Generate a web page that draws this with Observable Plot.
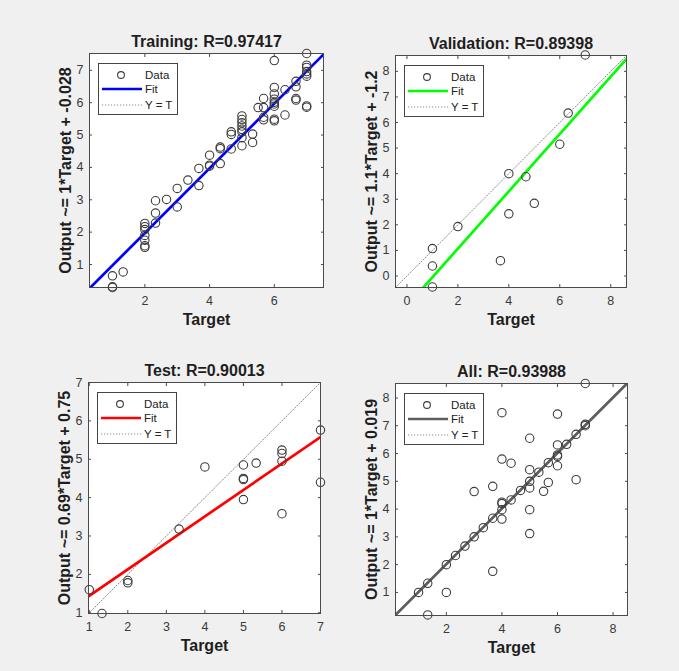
<!DOCTYPE html>
<html><head><meta charset="utf-8">
<script src="https://cdn.jsdelivr.net/npm/d3@7"></script>
<script src="https://cdn.jsdelivr.net/npm/@observablehq/plot@0.6"></script>
<style>
html,body{margin:0;padding:0;background:#f0f0f0;}
#fig{position:relative;width:679px;height:671px;background:#f0f0f0;font-family:"Liberation Sans",Arial,Helvetica,sans-serif;overflow:hidden;}
#fig svg.plot{position:absolute;overflow:visible;}
#fig svg.leg{position:absolute;overflow:visible;}
</style></head><body><div id="fig"></div>
<script>
// ---- Data ----
const trainTarget = [1,1,1,1.33, 2,2,2,2,2,2,2, 2.33,2.33,2.33, 2.67, 3,3, 3.33, 3.67,3.67, 4,4,4, 4.33,4.33,4.33, 4.67,4.67,4.67, 5,5,5,5,5,5,5,5, 5.33,5.33, 5.5, 5.67,5.67,5.67,5.67, 6,6,6,6,6,6,6,6,6, 6.33,6.33, 6.67,6.67,6.67,6.67, 7,7,7,7,7,7,7,7];
const trainOutput = [0.65,0.31,0.29,0.77, 2.27,2.17,2.08,1.9,1.75,1.58,1.53, 2.97,2.59,2.28, 3.01, 3.35,2.78, 3.61, 3.97,3.44, 4.38,4.07,4.04, 4.63,4.58,4.12, 5.1,5.02,4.57, 5.59,5.48,5.38,5.28,5.18,5.1,4.92,4.67, 5.03,4.77, 5.85, 6.13,5.85,5.55,5.47, 7.3,6.47,6.27,6.11,6.01,5.96,5.89,5.49,5.44, 6.4,5.62, 6.66,6.49,6.13,6.08, 7.52,7.16,7.09,6.96,6.89,6.82,5.9,5.86];

const valTarget = [7, 6.33, 6, 4, 4.67, 5, 4, 2, 3.67, 1, 1, 1];
const valOutput = [8.64, 6.37, 5.15, 4.0, 3.88, 2.84, 2.43, 1.93, 0.6, 1.07, 0.39, -0.43];

const testTarget = [1, 1.33, 2, 2, 3.33, 4, 5, 5, 5, 5, 5.33, 6, 6, 6, 6, 7, 7];
const testOutput = [1.6, 0.98, 1.84, 1.78, 3.18, 4.8, 4.85, 4.5, 4.47, 3.95, 4.9, 5.24, 5.15, 4.95, 3.58, 5.76, 4.4];

const allTarget = [7, 4, 6, 7, 7, 6.67, 5, 6.33, 6, 6, 6, 6, 5.67, 5.33, 5, 5, 5, 5, 5, 5.67, 5.5, 6.67, 4, 4.33, 3.67, 3, 4.67, 4.33, 4, 4, 4, 4, 3.67, 3.33, 3, 2.67, 2.33, 2, 2, 3.67, 1.33, 1, 1.33];
const allOutput = [8.52, 7.47, 7.42, 7.05, 7.0, 6.69, 6.55, 6.33, 6.31, 5.95, 5.9, 5.56, 5.67, 5.33, 5.42, 5.0, 4.76, 3.98, 3.12, 4.96, 4.64, 5.06, 5.8, 5.65, 4.82, 4.63, 4.67, 4.33, 4.25, 4.2, 3.98, 3.64, 3.67, 3.33, 3.0, 2.67, 2.33, 2.0, 1.0, 1.76, 1.33, 1.0, 0.19];

// axis limits, tick values
const trainDomain = [0.29, 7.52];
const valDomain = [-0.45, 8.62];
const testDomain = [0.98, 7.0];
const allDomain = [0.17, 8.52];
const trainXTicks = [2, 4, 6];
const trainYTicks = [1, 2, 3, 4, 5, 6, 7];
const valXTicks = [0, 2, 4, 6, 8];
const valYTicks = [0, 1, 2, 3, 4, 5, 6, 7, 8];
const testXTicks = [1, 2, 3, 4, 5, 6, 7];
const testYTicks = [1, 2, 3, 4, 5, 6, 7];
const allXTicks = [2, 4, 6, 8];
const allYTicks = [1, 2, 3, 4, 5, 6, 7, 8];

// fit lines (slope, intercept)
const trainFit = [1.0, -0.028];
const valFit = [1.12, -1.17];
const testFit = [0.69, 0.75];
const allFit = [1.0, 0.019];

const titles = ["Training: R=0.97417", "Validation: R=0.89398", "Test: R=0.90013", "All: R=0.93988"];
const yLabels = ["Output ~= 1*Target + -0.028", "Output ~= 1.1*Target + -1.2", "Output ~= 0.69*Target + 0.75", "Output ~= 1*Target + 0.019"];
const xLabel = "Target";
const legendLabels = ["Data", "Fit", "Y = T"];
const fitColors = ["#0000ff", "#00ff00", "#ff0000", "#5e5e5e"];

// ---- Layout ----
const FONT = '"Liberation Sans", Arial, Helvetica, sans-serif';
const ML = 60, MR = 15, MT = 40, MB = 45;
const panels = [
  {left: 89, top: 53, w: 234, h: 234, target: trainTarget, output: trainOutput, domain: trainDomain, xt: trainXTicks, yt: trainYTicks, fit: trainFit},
  {left: 395, top: 55, w: 231, h: 232, target: valTarget, output: valOutput, domain: valDomain, xt: valXTicks, yt: valYTicks, fit: valFit},
  {left: 88, top: 382, w: 232, h: 231, target: testTarget, output: testOutput, domain: testDomain, xt: testXTicks, yt: testYTicks, fit: testFit},
  {left: 395, top: 383, w: 232, h: 232, target: allTarget, output: allOutput, domain: allDomain, xt: allXTicks, yt: allYTicks, fit: allFit}
];

const fig = document.getElementById("fig");
const AX = "#4a4a4a";

panels.forEach((p, i) => {
  const pts = p.target.map((t, j) => ({t, o: p.output[j]}));
  const diag = p.domain.map(v => ({t: v, o: v}));
  const fitLine = p.domain.map(v => ({t: v, o: p.fit[0] * v + p.fit[1]}));
  const svg = Plot.plot({
    width: p.w + ML + MR, height: p.h + MT + MB,
    marginLeft: ML, marginRight: MR, marginTop: MT, marginBottom: MB,
    style: {background: "transparent", fontFamily: FONT, overflow: "visible"},
    x: {domain: p.domain, label: null},
    y: {domain: p.domain, label: null},
    marks: [
      Plot.frame({fill: "white", stroke: null}),
      Plot.line(diag, {x: "t", y: "o", stroke: "#8a8a8a", strokeWidth: 1, strokeDasharray: "1.2,1.8", clip: true}),
      Plot.line(fitLine, {x: "t", y: "o", stroke: fitColors[i], strokeWidth: 2.7, clip: true}),
      Plot.dot(pts, {x: "t", y: "o", r: 4.2, stroke: "#3c3c3c", strokeWidth: 1.1, fill: "none"}),
      Plot.frame({stroke: AX, strokeWidth: 1}),
      Plot.axisX(p.xt, {anchor: "bottom", tickSize: -3, fill: "none", stroke: AX, label: null}),
      Plot.axisX(p.xt, {anchor: "top", tickSize: -3, fill: "none", stroke: AX, label: null}),
      Plot.axisY(p.yt, {anchor: "left", tickSize: -3, fill: "none", stroke: AX, label: null}),
      Plot.axisY(p.yt, {anchor: "right", tickSize: -3, fill: "none", stroke: AX, label: null}),
      Plot.axisX(p.xt, {anchor: "bottom", tickSize: 0, tickPadding: 9, fontSize: 12.5, fill: "#3a3a3a", label: null}),
      Plot.axisY(p.yt, {anchor: "left", tickSize: 0, tickPadding: 6, fontSize: 12.5, fill: "#3a3a3a", label: null}),
      Plot.text([titles[i]], {frameAnchor: "top", dy: -12, fontSize: 16, fontWeight: "bold", fill: "#1e1e1e", lineAnchor: "middle", textAnchor: "middle"}),
      Plot.text([xLabel], {frameAnchor: "bottom", dy: 32, fontSize: 16, fontWeight: "bold", fill: "#1e1e1e", lineAnchor: "middle", textAnchor: "middle"}),
      Plot.text([yLabels[i]], {frameAnchor: "left", dx: -24, rotate: -90, fontSize: 16, fontWeight: "bold", fill: "#1e1e1e", lineAnchor: "middle", textAnchor: "middle"})
    ]
  });
  svg.classList.add("plot");
  svg.style.left = (p.left - ML) + "px";
  svg.style.top = (p.top - MT) + "px";
  fig.appendChild(svg);

  // legend box
  const LW = 80, LH = 52;
  const leg = d3.create("svg").attr("class", "leg").attr("width", LW).attr("height", LH)
    .style("left", (p.left + 9) + "px").style("top", (p.top + 10) + "px");
  leg.append("rect").attr("x", 0.5).attr("y", 0.5).attr("width", LW - 1).attr("height", LH - 1)
    .attr("fill", "white").attr("stroke", "#444");
  const rows = [12, 26, 42];
  leg.append("circle").attr("cx", 23).attr("cy", rows[0]).attr("r", 3.4).attr("fill", "none").attr("stroke", "#3c3c3c").attr("stroke-width", 1.1);
  leg.append("line").attr("x1", 4).attr("x2", 44).attr("y1", rows[1]).attr("y2", rows[1]).attr("stroke", fitColors[i]).attr("stroke-width", 2.7);
  leg.append("line").attr("x1", 4).attr("x2", 45).attr("y1", rows[2]).attr("y2", rows[2]).attr("stroke", "#8a8a8a").attr("stroke-dasharray", "1.2,1.8");
  legendLabels.forEach((lab, k) => {
    leg.append("text").attr("x", 47).attr("y", rows[k]).attr("dy", "0.35em")
      .attr("font-size", 11.5).attr("font-family", FONT).attr("fill", "#222").text(lab);
  });
  fig.appendChild(leg.node());
});
</script></body></html>
